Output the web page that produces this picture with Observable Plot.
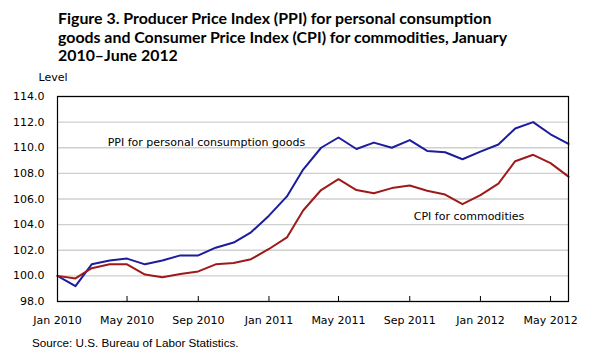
<!DOCTYPE html>
<html>
<head>
<meta charset="utf-8">
<script src="https://cdn.jsdelivr.net/npm/d3@7"></script>
<script src="https://cdn.jsdelivr.net/npm/@observablehq/plot@0.6"></script>
<style>
  body { margin: 0; background: #fff; width: 605px; height: 363px; overflow: hidden; }
  #title { height: 64px; box-sizing: border-box; padding: 9px 0 0 58px; font: bold 15.9px Lato, sans-serif; line-height: 18.5px; color: #000; }
  #source { padding-left: 32px; font: 11.7px "Liberation Sans", sans-serif; color: #000; margin-top: 2px; }
  svg { display: block; }
</style>
</head>
<body>
<div id="title">Figure 3. Producer Price Index (PPI) for personal consumption<br>goods and Consumer Price Index (CPI) for commodities, January<br>2010–June 2012</div>
<div id="chart"></div>
<div id="source">Source: U.S. Bureau of Labor Statistics.</div>
<script>
const months = d3.utcMonths(new Date(Date.UTC(2010, 0, 1)), new Date(Date.UTC(2012, 6, 1)));
const ppi = [100.0, 99.2, 100.9, 101.2, 101.35, 100.9, 101.2, 101.6, 101.6, 102.2,
             102.6, 103.4, 104.7, 106.2, 108.3, 110.0, 110.8, 109.9, 110.4, 110.0,
             110.6, 109.75, 109.65, 109.1, 109.7, 110.25, 111.5, 112.0, 111.05, 110.3];
const cpi = [100.0, 99.8, 100.6, 100.9, 100.9, 100.1, 99.9, 100.15, 100.35, 100.9,
             101.0, 101.3, 102.1, 103.0, 105.1, 106.7, 107.55, 106.7, 106.45, 106.85,
             107.05, 106.65, 106.35, 105.6, 106.3, 107.2, 108.95, 109.45, 108.8, 107.75];
const xTicks = ["2010-01", "2010-05", "2010-09", "2011-01", "2011-05", "2011-09", "2012-01", "2012-05"];
const yTicks = [98, 100, 102, 104, 106, 108, 110, 112, 114];
const seriesNames = ["PPI for personal consumption goods", "CPI for commodities"];
const seriesColors = ["#1c1c9c", "#9e1a1a"];

const tickDates = xTicks.map(s => new Date(s + "-01T00:00:00Z"));
const rows = [];
months.forEach((m, i) => {
  rows.push({date: m, value: ppi[i], series: seriesNames[0]});
  rows.push({date: m, value: cpi[i], series: seriesNames[1]});
});

const chart = Plot.plot({
  width: 605,
  height: 270,
  marginTop: 32,
  marginBottom: 33,
  marginLeft: 57,
  marginRight: 37,
  style: {fontFamily: "'DejaVu Sans', sans-serif", fontSize: "11px", color: "#000", background: "#fff"},
  x: {type: "utc", domain: [months[0], months[months.length - 1]]},
  y: {domain: [98, 114]},
  color: {domain: seriesNames, range: seriesColors},
  marks: [
    Plot.gridY(yTicks, {stroke: "#cfcfcf", strokeOpacity: 1, strokeWidth: 1.3}),
    Plot.axisY(yTicks, {tickSize: 0, tickPadding: 13, tickFormat: d3.format(".1f"), label: null, fontSize: 11}),
    Plot.text(["Level"], {frameAnchor: "top-left", dx: -19, dy: -23, textAnchor: "start", fontSize: 11}),
    Plot.axisX(tickDates, {tickSize: 0, tickPadding: 15, tickFormat: d3.utcFormat("%b %Y"), label: null, fontSize: 11}),
    Plot.ruleX(tickDates.slice(1), {stroke: "#000", insetTop: 200}),
    Plot.line(rows, {x: "date", y: "value", z: "series", stroke: "series", strokeWidth: 2}),
    Plot.text([seriesNames[0]], {x: months[3], y: 110.4, text: d => d, textAnchor: "start", dx: -2, fontSize: 11}),
    Plot.text([seriesNames[1]], {x: months[20], y: 104.65, text: d => d, textAnchor: "start", dx: 4, fontSize: 11}),
    Plot.frame({stroke: "#000", strokeWidth: 1.2})
  ]
});
document.getElementById("chart").appendChild(chart);
</script>
</body>
</html>
